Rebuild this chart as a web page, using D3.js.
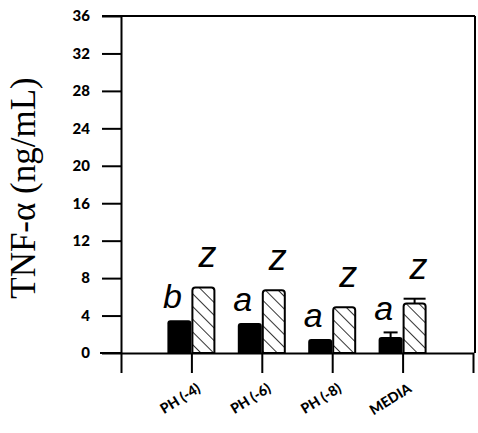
<!DOCTYPE html>
<html>
<head>
<meta charset="utf-8">
<script src="https://cdn.jsdelivr.net/npm/d3@7"></script>
<style>
  html, body { margin: 0; padding: 0; background: #fff; }
  svg { display: block; }
</style>
</head>
<body>
<svg id="chart" width="478" height="433"></svg>
<script>
// TNF-α release per treatment: solid and hatched series
const categories = ["PH (-4)", "PH (-6)", "PH (-8)", "MEDIA"];
const solidValues = [3.5, 3.2, 1.5, 1.7];
const solidErrors = [0, 0, 0, 0.5];
const hatchValues = [7.0, 6.7, 4.9, 5.3];
const hatchErrors = [0, 0, 0, 0.5];
const solidLetters = ["b", "a", "a", "a"];
const hatchLetters = ["z", "z", "z", "z"];
const yTicks = [0, 4, 8, 12, 16, 20, 24, 28, 32, 36];
const yTitle = "TNF-α (ng/mL)";

const svg = d3.select("#chart");
const plotLeft = 121, plotRight = 473, plotTop = 16, plotBottom = 353;

const x = d3.scalePoint().domain(categories).range([plotLeft, plotRight]).padding(1);
const y = d3.scaleLinear().domain([0, 36]).range([plotBottom, plotTop]);

const barW = 24;
const ink = "#000";
const tickFont = "Lato, 'DejaVu Sans', sans-serif";

// hatch pattern for second series
const defs = svg.append("defs");
const pat = defs.append("pattern")
  .attr("id", "hatch")
  .attr("patternUnits", "userSpaceOnUse")
  .attr("width", 9).attr("height", 9)
  .attr("patternTransform", "rotate(-45)");
pat.append("rect").attr("width", 9).attr("height", 9).attr("fill", "#fff");
pat.append("line")
  .attr("x1", 0).attr("y1", 0).attr("x2", 0).attr("y2", 9)
  .attr("stroke", ink).attr("stroke-width", 1.6);

// frame: top and right border
svg.append("line")
  .attr("x1", 102).attr("x2", plotRight + 2)
  .attr("y1", y(36)).attr("y2", y(36))
  .attr("stroke", ink).attr("stroke-width", 2);
svg.append("line")
  .attr("x1", plotRight + 2).attr("x2", plotRight + 2)
  .attr("y1", y(36)).attr("y2", plotBottom)
  .attr("stroke", ink).attr("stroke-width", 2);

// rounded-top bar path
function barPath(x0, w, yTop, yBase, r) {
  return `M${x0},${yBase}V${yTop + r}Q${x0},${yTop} ${x0 + r},${yTop}` +
         `H${x0 + w - r}Q${x0 + w},${yTop} ${x0 + w},${yTop + r}V${yBase}Z`;
}

const g = svg.append("g");

// solid bars (left of each category)
g.selectAll("path.solid")
  .data(categories)
  .join("path")
  .attr("class", "solid")
  .attr("d", (c, i) => barPath(x(c) - barW, barW, y(solidValues[i]), plotBottom, 3))
  .attr("fill", ink);

// hatched bars (right of each category)
g.selectAll("path.hatch")
  .data(categories)
  .join("path")
  .attr("class", "hatch")
  .attr("d", (c, i) => barPath(x(c) + 1, barW - 2, y(hatchValues[i]), plotBottom, 3))
  .attr("fill", "url(#hatch)")
  .attr("stroke", ink)
  .attr("stroke-width", 2);

// error bars
function errorBars(values, errors, cx, capW) {
  categories.forEach((c, i) => {
    if (!errors[i]) return;
    const xc = cx(c);
    const y0 = y(values[i]), y1 = y(values[i] + errors[i]);
    g.append("line").attr("x1", xc).attr("x2", xc).attr("y1", y0).attr("y2", y1)
      .attr("stroke", ink).attr("stroke-width", 2);
    g.append("line").attr("x1", xc - capW / 2).attr("x2", xc + capW / 2)
      .attr("y1", y1).attr("y2", y1)
      .attr("stroke", ink).attr("stroke-width", 2);
  });
}
errorBars(solidValues, solidErrors, c => x(c) - barW / 2, 14);
errorBars(hatchValues, hatchErrors, c => x(c) + barW / 2, 22);

// significance letters
const letterFont = "'Liberation Sans', Arial, sans-serif";
g.selectAll("text.sl")
  .data(categories)
  .join("text")
  .attr("class", "sl")
  .attr("x", c => x(c) - barW / 2 - 7)
  .attr("y", (c, i) => y(solidValues[i] + solidErrors[i]) - 12)
  .attr("text-anchor", "middle")
  .style("font-family", letterFont)
  .style("font-style", "italic")
  .style("font-size", "34px")
  .text((c, i) => solidLetters[i]);
g.selectAll("text.hl")
  .data(categories)
  .join("text")
  .attr("class", "hl")
  .attr("x", c => x(c) + barW / 2 + 4)
  .attr("y", (c, i) => y(hatchValues[i] + hatchErrors[i]) - 20)
  .attr("text-anchor", "middle")
  .style("font-family", letterFont)
  .style("font-style", "italic")
  .style("font-size", "36px")
  .text((c, i) => hatchLetters[i]);

// x axis (ticks only; labels run along slanted guide paths)
svg.append("line")
  .attr("x1", 100).attr("x2", plotLeft)
  .attr("y1", plotBottom).attr("y2", plotBottom)
  .attr("stroke", ink).attr("stroke-width", 2);
const xAxis = svg.append("g")
  .attr("transform", `translate(0,${plotBottom})`)
  .call(d3.axisBottom(x).tickSizeInner(20).tickSizeOuter(20).tickFormat(""));
xAxis.selectAll("path, line").attr("stroke", ink).attr("stroke-width", 2);

const labelAngle = 32 * Math.PI / 180, guideLen = 90;
categories.forEach((c, i) => {
  const ex = x(c) + 10, ey = plotBottom + 38;
  const sx = ex - guideLen * Math.cos(labelAngle), sy = ey + guideLen * Math.sin(labelAngle);
  defs.append("path")
    .attr("id", "xlab" + i)
    .attr("d", `M${sx},${sy}L${ex},${ey}`);
});
svg.append("g")
  .selectAll("text")
  .data(categories)
  .join("text")
  .attr("fill", ink)
  .style("font-family", tickFont)
  .style("font-weight", "900")
  .style("font-size", "14px")
  .append("textPath")
  .attr("href", (c, i) => "#xlab" + i)
  .attr("startOffset", "100%")
  .attr("text-anchor", "end")
  .text(c => c);

// y axis
const yAxis = svg.append("g")
  .attr("transform", `translate(${plotLeft},0)`)
  .call(d3.axisLeft(y).tickValues(yTicks).tickFormat(d3.format("d"))
    .tickSizeInner(19).tickSizeOuter(0).tickPadding(12));
yAxis.selectAll("path, line").attr("stroke", ink).attr("stroke-width", 2);
yAxis.selectAll("text")
  .attr("fill", ink)
  .style("font-family", tickFont)
  .style("font-weight", "900")
  .style("font-size", "15px");

// y title
svg.append("text")
  .attr("transform", `translate(35,188) rotate(-90)`)
  .attr("text-anchor", "middle")
  .style("font-family", "'Liberation Serif', 'Times New Roman', serif")
  .style("font-size", "35px")
  .attr("fill", ink)
  .text(yTitle);
</script>
</body>
</html>
